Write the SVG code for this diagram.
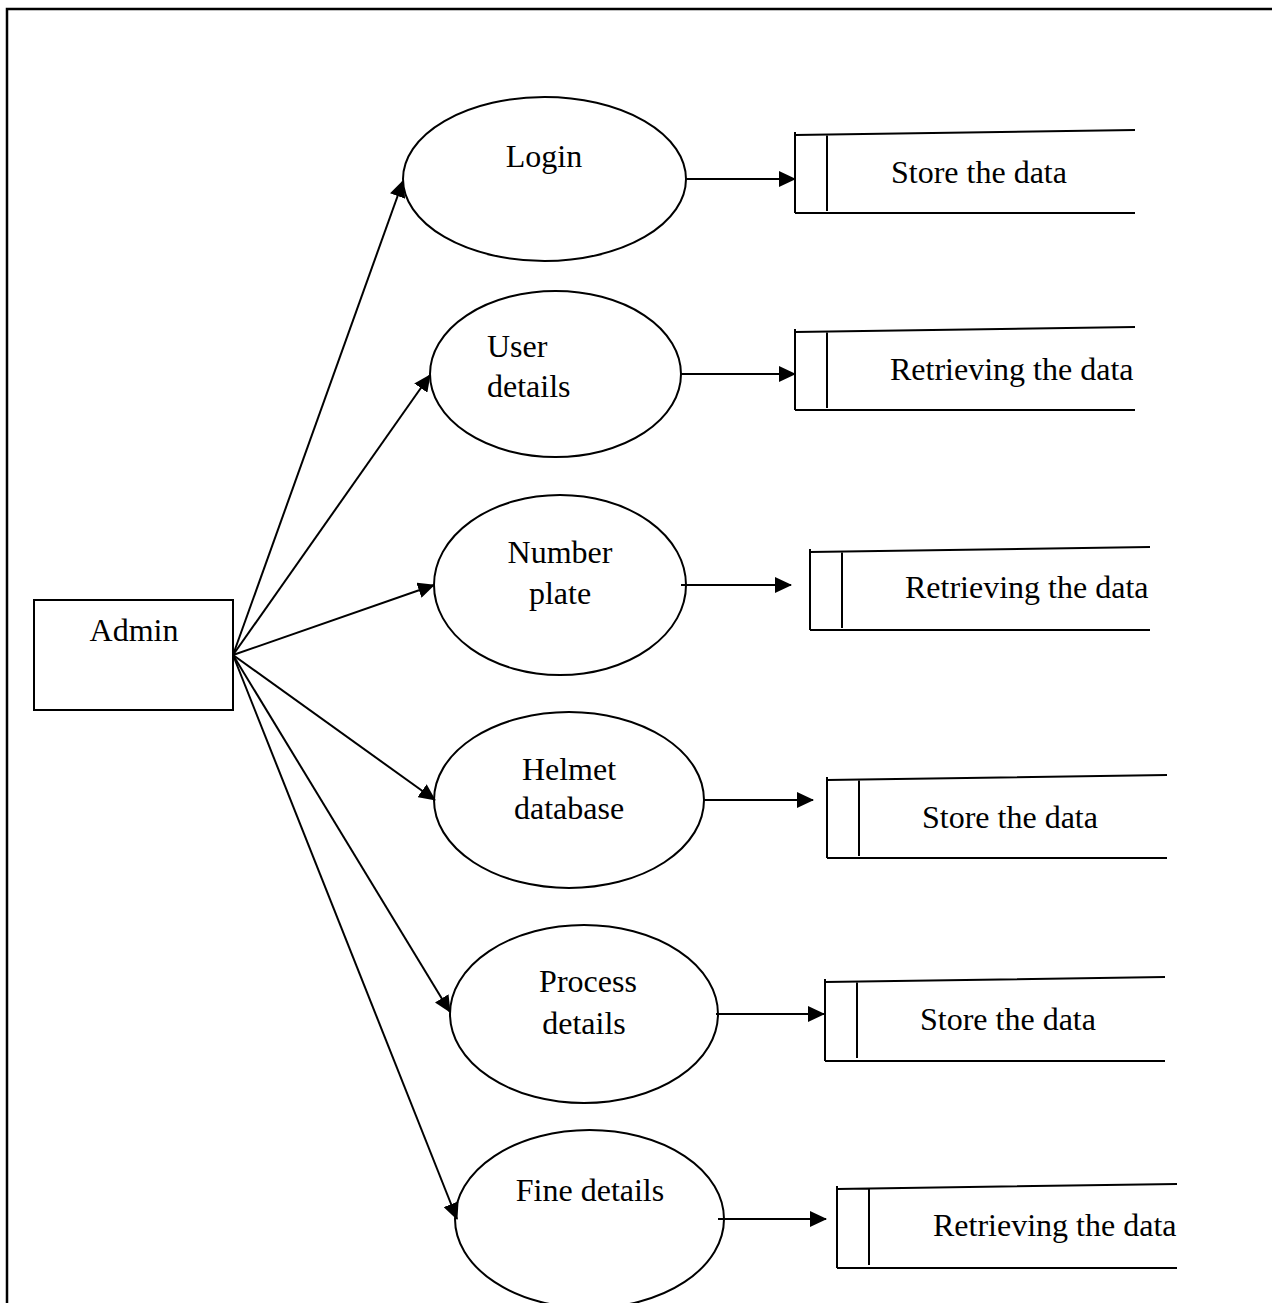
<svg xmlns="http://www.w3.org/2000/svg" width="1272" height="1303" viewBox="0 0 1272 1303">
<style>
.n{fill:#fff;stroke:#000;stroke-width:2}
.t{font-family:"Liberation Serif","Times New Roman",serif;font-size:32px;fill:#000}
.c{fill:none;stroke:#000;stroke-width:2}
.s{fill:none;stroke:#000;stroke-width:2}
</style>
<defs>
<marker id="ah" markerUnits="userSpaceOnUse" markerWidth="17" markerHeight="16" refX="16" refY="8" orient="auto">
<path d="M0,0 L17,8 L0,16 Z" fill="#000"/>
</marker>
</defs>
<rect width="1272" height="1303" fill="#fff"/>
<path d="M7,1303 V9 H1272" fill="none" stroke="#000" stroke-width="2.5"/>

<g id="admin">
<rect class="n" x="34" y="600" width="199" height="110"/>
<text class="t" x="134" y="641" text-anchor="middle">Admin</text>
</g>

<g id="login">
<ellipse class="n" cx="544.5" cy="179" rx="141.5" ry="82"/>
<text class="t" x="544" y="167" text-anchor="middle">Login</text>
</g>
<g id="user-details">
<ellipse class="n" cx="555.5" cy="374" rx="125.5" ry="83"/>
<text class="t" x="487" y="357">User</text>
<text class="t" x="487" y="397">details</text>
</g>
<g id="number-plate">
<ellipse class="n" cx="560" cy="585" rx="126" ry="90"/>
<text class="t" x="560" y="563" text-anchor="middle">Number</text>
<text class="t" x="560" y="604" text-anchor="middle">plate</text>
</g>
<g id="helmet-database">
<ellipse class="n" cx="569" cy="800" rx="135" ry="88"/>
<text class="t" x="569" y="780" text-anchor="middle">Helmet</text>
<text class="t" x="569" y="819" text-anchor="middle">database</text>
</g>
<g id="process-details">
<ellipse class="n" cx="584" cy="1014" rx="134" ry="89"/>
<text class="t" x="588" y="992" text-anchor="middle">Process</text>
<text class="t" x="584" y="1034" text-anchor="middle">details</text>
</g>
<g id="fine-details">
<ellipse class="n" cx="589.5" cy="1219" rx="134.5" ry="89"/>
<text class="t" x="590" y="1201" text-anchor="middle">Fine details</text>
</g>

<g id="store-1">
<path class="s" d="M795,132 V213 M795,135 L1135,130 M795,213 H1135 M827,135 V211"/>
<text class="t" x="891" y="183">Store the data</text>
</g>
<g id="store-2">
<path class="s" d="M795,329 V410 M795,332 L1135,327 M795,410 H1135 M827,332 V408"/>
<text class="t" x="890" y="380">Retrieving the data</text>
</g>
<g id="store-3">
<path class="s" d="M810,549 V630 M810,552 L1150,547 M810,630 H1150 M842,552 V628"/>
<text class="t" x="905" y="598">Retrieving the data</text>
</g>
<g id="store-4">
<path class="s" d="M827,777 V858 M827,780 L1167,775 M827,858 H1167 M859,780 V856"/>
<text class="t" x="922" y="828">Store the data</text>
</g>
<g id="store-5">
<path class="s" d="M825,979 V1061 M825,982 L1165,977 M825,1061 H1165 M857,982 V1058"/>
<text class="t" x="920" y="1030">Store the data</text>
</g>
<g id="store-6">
<path class="s" d="M837,1186 V1268 M837,1189 L1177,1184 M837,1268 H1177 M869,1189 V1265"/>
<text class="t" x="933" y="1236">Retrieving the data</text>
</g>

<g id="connectors">
<line class="c" x1="233" y1="655" x2="403" y2="181" marker-end="url(#ah)"/>
<line class="c" x1="233" y1="655" x2="430" y2="375" marker-end="url(#ah)"/>
<line class="c" x1="233" y1="655" x2="434" y2="585" marker-end="url(#ah)"/>
<line class="c" x1="233" y1="655" x2="435" y2="800" marker-end="url(#ah)"/>
<line class="c" x1="233" y1="655" x2="450" y2="1012" marker-end="url(#ah)"/>
<line class="c" x1="233" y1="655" x2="457" y2="1219" marker-end="url(#ah)"/>
<line class="c" x1="686" y1="179" x2="795" y2="179" marker-end="url(#ah)"/>
<line class="c" x1="681" y1="374" x2="795" y2="374" marker-end="url(#ah)"/>
<line class="c" x1="681" y1="585" x2="791" y2="585" marker-end="url(#ah)"/>
<line class="c" x1="704" y1="800" x2="813" y2="800" marker-end="url(#ah)"/>
<line class="c" x1="716" y1="1014" x2="824" y2="1014" marker-end="url(#ah)"/>
<line class="c" x1="718" y1="1219" x2="826" y2="1219" marker-end="url(#ah)"/>
</g>
</svg>
